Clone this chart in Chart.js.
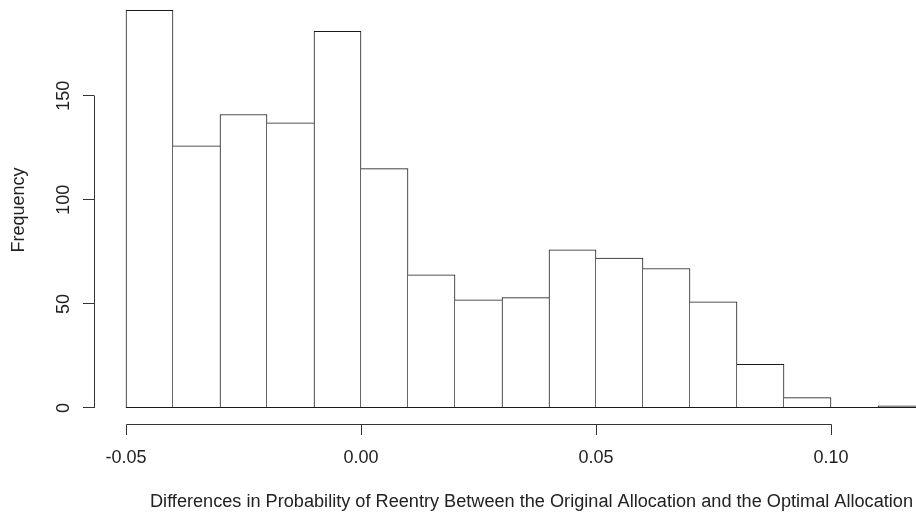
<!DOCTYPE html>
<html>
<head>
<meta charset="utf-8">
<script src="https://cdn.jsdelivr.net/npm/chart.js@4/dist/chart.umd.min.js"></script>
<style>
  html, body { margin: 0; padding: 0; background: #fff; }
  canvas { display: block; }
</style>
</head>
<body>
<canvas id="hist" width="916" height="515"></canvas>
<script>
// histogram bins (left edges) and counts
const binStart = [-0.05, -0.04, -0.03, -0.02, -0.01, 0.00, 0.01, 0.02, 0.03, 0.04, 0.05, 0.06, 0.07, 0.08, 0.09, 0.10, 0.11];
const binWidth = 0.01;
const counts   = [191, 126, 141, 137, 181, 115, 64, 52, 53, 76, 72, 67, 51, 21, 5, 0, 1];
const xTicks = [-0.05, 0.00, 0.05, 0.10];
const yTicks = [0, 50, 100, 150];
const xTitle = 'Differences in Probability of Reentry Between the Original Allocation and the Optimal Allocation';
const yTitle = 'Frequency';

const FONT = '"Liberation Sans", Arial, sans-serif';
const INK = '#1a1a1a';
const AXIS = '#333';

const points = binStart.map((b, i) => ({ x: b + binWidth / 2, y: counts[i] }));

// each shared edge is drawn once, by the taller of the two bars
function edgeWidths(ctx) {
    const i = ctx.dataIndex;
    const v = counts[i];
    const prev = i > 0 ? counts[i - 1] : -1;
    const next = i < counts.length - 1 ? counts[i + 1] : -1;
    return {
        top: 1,
        bottom: 0,
        left: prev <= v ? 1 : 0,
        right: next < v ? 1 : 0
    };
}

// R style axes, drawn off the chart's own scales
const rAxes = {
    id: 'rAxes',
    afterDraw(chart) {
        const { ctx, scales: { x, y } } = chart;
        ctx.save();
        ctx.lineWidth = 1;

        // baseline under the bars (also the empty bin)
        const y0 = Math.round(y.getPixelForValue(0)) - 0.5;
        ctx.strokeStyle = INK;
        ctx.beginPath();
        ctx.moveTo(x.getPixelForValue(binStart[0]), y0);
        ctx.lineTo(chart.width, y0);
        ctx.stroke();

        ctx.strokeStyle = AXIS;
        ctx.fillStyle = '#222';
        ctx.font = '18px ' + FONT;

        // y axis
        const ax = 94.5;
        ctx.beginPath();
        ctx.moveTo(ax, Math.round(y.getPixelForValue(yTicks[0])));
        ctx.lineTo(ax, Math.round(y.getPixelForValue(yTicks[yTicks.length - 1])));
        yTicks.forEach(t => {
            const py = Math.round(y.getPixelForValue(t)) - 0.5;
            ctx.moveTo(ax, py);
            ctx.lineTo(83, py);
        });
        ctx.stroke();
        ctx.textAlign = 'center';
        ctx.textBaseline = 'middle';
        yTicks.forEach(t => {
            const py = y.getPixelForValue(t);
            ctx.save();
            ctx.translate(64, py);
            ctx.rotate(-Math.PI / 2);
            ctx.fillText(String(t), 0, 0);
            ctx.restore();
        });
        ctx.save();
        ctx.translate(19, 210);
        ctx.rotate(-Math.PI / 2);
        ctx.fillText(yTitle, 0, 0);
        ctx.restore();

        // x axis
        const ay = 424.5;
        ctx.beginPath();
        ctx.moveTo(Math.round(x.getPixelForValue(xTicks[0])) + 0.5, ay);
        ctx.lineTo(Math.round(x.getPixelForValue(xTicks[xTicks.length - 1])) + 0.5, ay);
        xTicks.forEach(t => {
            const px = Math.round(x.getPixelForValue(t)) + 0.5;
            ctx.moveTo(px, ay);
            ctx.lineTo(px, 435);
        });
        ctx.stroke();
        xTicks.forEach(t => {
            ctx.fillText(t.toFixed(2), x.getPixelForValue(t), 458);
        });

        // axis title, fitted to the width seen in the picture
        const w = ctx.measureText(xTitle).width;
        const sx = 763 / w;
        ctx.save();
        ctx.translate(531.5, 502);
        ctx.scale(sx, 1);
        ctx.fillText(xTitle, 0, 0);
        ctx.restore();

        ctx.restore();
    }
};

const pxPerBin = 47;
const plotLeft = 126;
const xMin = binStart[0];
const xMax = xMin + (916 - plotLeft) / pxPerBin * binWidth;

new Chart(document.getElementById('hist').getContext('2d'), {
    type: 'bar',
    data: {
        datasets: [{
            data: points,
            backgroundColor: '#ffffff',
            borderColor: INK,
            borderWidth: edgeWidths,
            borderSkipped: false,
            barPercentage: 1,
            categoryPercentage: 1,
            clip: false
        }]
    },
    options: {
        responsive: false,
        animation: false,
        events: [],
        layout: { padding: { left: plotLeft, right: 0, top: 0, bottom: 107 } },
        plugins: { legend: { display: false }, tooltip: { enabled: false } },
        scales: {
            x: {
                type: 'linear',
                display: false,
                offset: false,
                min: xMin,
                max: xMax,
                afterBuildTicks: s => { s.ticks = xTicks.map(v => ({ value: v })); }
            },
            y: {
                display: false,
                min: 0,
                max: 196
            }
        }
    },
    plugins: [rAxes]
});
</script>
</body>
</html>
